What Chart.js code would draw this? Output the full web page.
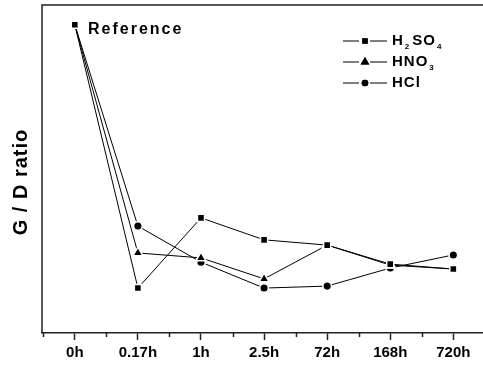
<!DOCTYPE html>
<html>
<head>
<meta charset="utf-8">
<script src="https://cdn.jsdelivr.net/npm/chart.js@4"></script>
<style>
  html, body { margin: 0; padding: 0; background: #fff; overflow: hidden; }
  canvas { display: block; }
</style>
</head>
<body>
<canvas id="chart" width="483" height="365"></canvas>
<script>
'use strict';

// categories along the time axis
var timeLabels = ['0h', '0.17h', '1h', '2.5h', '72h', '168h', '720h'];

// G/D ratio (arbitrary units, 0 = axis bottom)
var h2so4 = [0.94, 0.137, 0.351, 0.284, 0.268, 0.210, 0.195];
var hno3  = [0.94, 0.244, 0.229, 0.165, 0.268, 0.207, 0.195];
var hcl   = [0.94, 0.326, 0.216, 0.137, 0.143, 0.198, 0.238];

var seriesNames = ['H2SO4', 'HNO3', 'HCl'];
var FONT = '"Liberation Sans", Arial, sans-serif';

function toPoints(arr) {
  return arr.map(function(v, i) { return { x: i, y: v }; });
}

// draws the frame, minor ticks, axis title, legend and the "Reference" note
var decor = {
  id: 'decor',
  afterDraw: function(chart) {
    var ctx = chart.ctx;
    var a = chart.chartArea;
    var xs = chart.scales.x;
    ctx.save();
    ctx.strokeStyle = '#222';
    ctx.lineWidth = 1.5;
    ctx.beginPath();
    ctx.moveTo(a.left, a.bottom);
    ctx.lineTo(a.left, a.top);
    ctx.lineTo(chart.width, a.top);
    ctx.stroke();

    // minor ticks half way between categories
    ctx.beginPath();
    for (var v = -0.5; v <= 6.5; v += 1) {
      var px = Math.round(xs.getPixelForValue(v)) + 0.5;
      ctx.moveTo(px, a.bottom);
      ctx.lineTo(px, a.bottom + 4);
    }
    ctx.stroke();

    // y axis title
    ctx.fillStyle = '#000';
    ctx.font = 'bold 20px ' + FONT;
    ctx.letterSpacing = '1px';
    ctx.textAlign = 'center';
    ctx.textBaseline = 'middle';
    ctx.translate(21, 182);
    ctx.rotate(-Math.PI / 2);
    ctx.fillText('G / D ratio', 0, 0);
    ctx.restore();

    ctx.save();
    ctx.fillStyle = '#000';
    ctx.font = 'bold 16px ' + FONT;
    ctx.letterSpacing = '2px';
    ctx.textBaseline = 'middle';
    ctx.fillText('Reference', 88, 30);

    // legend
    var rows = [41, 62, 83];
    var styles = ['rect', 'triangle', 'circle'];
    var texts = [
      [['H', 0], ['2', 1], ['SO', 0], ['4', 1]],
      [['HNO', 0], ['3', 1]],
      [['HCl', 0]]
    ];
    ctx.letterSpacing = '1px';
    rows.forEach(function(y, i) {
      ctx.strokeStyle = '#000';
      ctx.lineWidth = 1.2;
      ctx.beginPath();
      ctx.moveTo(343, y); ctx.lineTo(359, y);
      ctx.moveTo(370, y); ctx.lineTo(387, y);
      ctx.stroke();
      ctx.fillStyle = '#000';
      var r = styles[i] === 'rect' ? 3.8 : (styles[i] === 'triangle' ? 5 : 3.3);
      Chart.helpers.drawPoint(ctx, { pointStyle: styles[i], radius: r, borderWidth: 0 }, 365, y);
      ctx.fill();
      var x = 392;
      texts[i].forEach(function(part) {
        if (part[1]) {
          ctx.font = 'bold 8px ' + FONT;
          ctx.fillText(part[0], x + 1, y + 6);
          x += ctx.measureText(part[0]).width + 3;
        } else {
          ctx.font = 'bold 15px ' + FONT;
          ctx.fillText(part[0], x, y);
          x += ctx.measureText(part[0]).width;
        }
      });
    });
    ctx.restore();
  }
};

function dataset(name, values, style, radius) {
  return {
    label: name,
    data: toPoints(values),
    borderColor: '#000',
    borderWidth: 1,
    backgroundColor: '#000',
    pointStyle: style,
    pointRadius: radius,
    pointBackgroundColor: '#000',
    pointBorderColor: '#fff',
    pointBorderWidth: 1.5,
    tension: 0,
    clip: false
  };
}

new Chart(document.getElementById('chart'), {
  type: 'line',
  data: {
    datasets: [
      dataset(seriesNames[0], h2so4, 'rect', 5),
      dataset(seriesNames[1], hno3, 'triangle', 5.8),
      dataset(seriesNames[2], hcl, 'circle', 4.3)
    ]
  },
  options: {
    responsive: false,
    animation: false,
    layout: { autoPadding: false, padding: { left: 42, top: 5, right: 0, bottom: 0 } },
    plugins: { legend: { display: false }, tooltip: { enabled: false } },
    scales: {
      x: {
        type: 'linear',
        min: -0.52,
        max: 6.47,
        afterBuildTicks: function(axis) {
          axis.ticks = timeLabels.map(function(l, i) { return { value: i }; });
        },
        afterFit: function(s) {
          s.height = 32;
          s.paddingLeft = 0;
          s.paddingRight = 0;
        },
        ticks: {
          autoSkip: false,
          maxRotation: 0,
          padding: 4,
          color: '#000',
          font: { family: FONT, size: 15, weight: 'bold' },
          callback: function(v) { return timeLabels[v]; }
        },
        grid: {
          drawOnChartArea: false,
          tickLength: 7,
          tickColor: '#222',
          tickWidth: 1.5
        },
        border: { color: '#222', width: 1.5 }
      },
      y: {
        display: false,
        min: 0,
        max: 1
      }
    }
  },
  plugins: [decor]
});
</script>
</body>
</html>
